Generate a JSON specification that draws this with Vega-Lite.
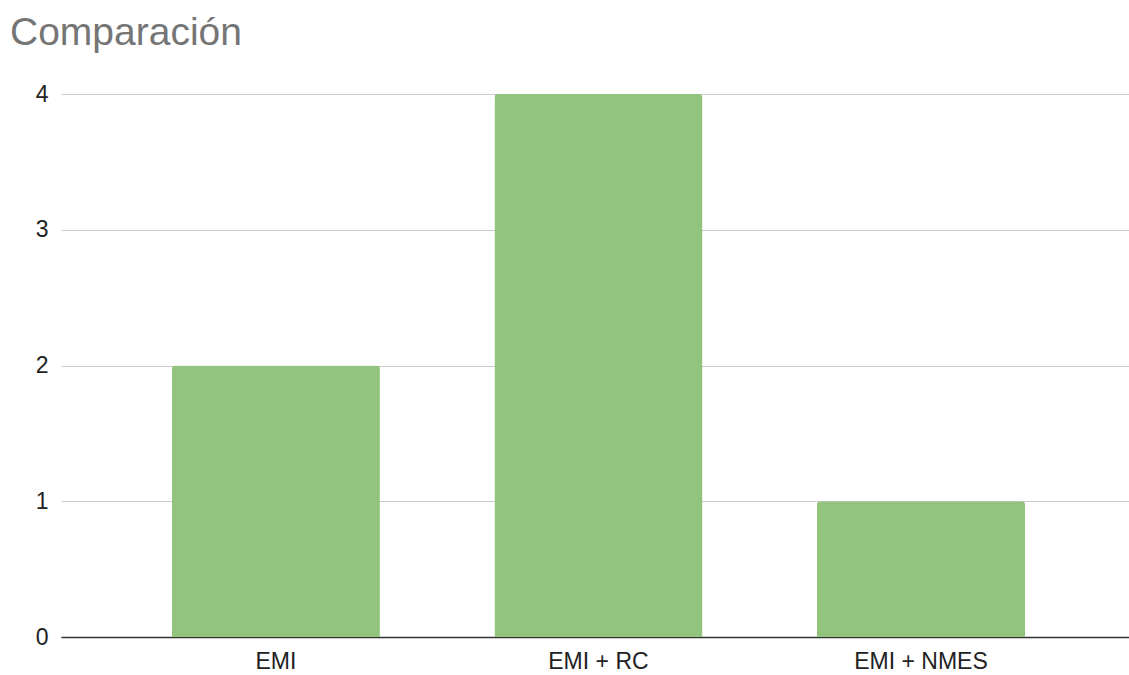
{
  "$schema": "https://vega.github.io/schema/vega-lite/v6.json",
  "width": 1068,
  "height": 543,
  "autosize": {"type": "none"},
  "padding": {"left": 61, "top": 94, "right": 0, "bottom": 38},
  "background": "white",
  "title": {
    "text": "Comparación",
    "anchor": "start",
    "frame": "group",
    "font": "Liberation Sans",
    "fontSize": 39,
    "fontWeight": "normal",
    "color": "#757575",
    "dx": -51,
    "offset": 30
  },
  "data": {
    "values": [
      {"grupo": "EMI", "valor": 2},
      {"grupo": "EMI + RC", "valor": 4},
      {"grupo": "EMI + NMES", "valor": 1}
    ]
  },
  "mark": {"type": "bar", "color": "#93c47d", "cornerRadiusTopLeft": 3, "cornerRadiusTopRight": 3},
  "encoding": {
    "x": {
      "field": "grupo",
      "type": "nominal",
      "sort": null,
      "scale": {"paddingInner": 0.355, "paddingOuter": 0.333, "align": 0.516},
      "axis": {
        "title": null,
        "labelAngle": 0,
        "labelFont": "Liberation Sans",
        "labelFontSize": 23,
        "labelColor": "#222222",
        "labelPadding": 13,
        "ticks": false,
        "domainColor": "#333333",
        "domainWidth": 1.5,
        "grid": false
      }
    },
    "y": {
      "field": "valor",
      "type": "quantitative",
      "scale": {"domain": [0, 4], "nice": false},
      "axis": {
        "title": null,
        "values": [0, 1, 2, 3, 4],
        "format": "d",
        "labelFont": "Liberation Sans",
        "labelFontSize": 23,
        "labelColor": "#222222",
        "labelPadding": 13,
        "ticks": false,
        "domain": false,
        "gridColor": "#cccccc",
        "gridWidth": 1
      }
    }
  },
  "config": {"view": {"stroke": null}}
}
